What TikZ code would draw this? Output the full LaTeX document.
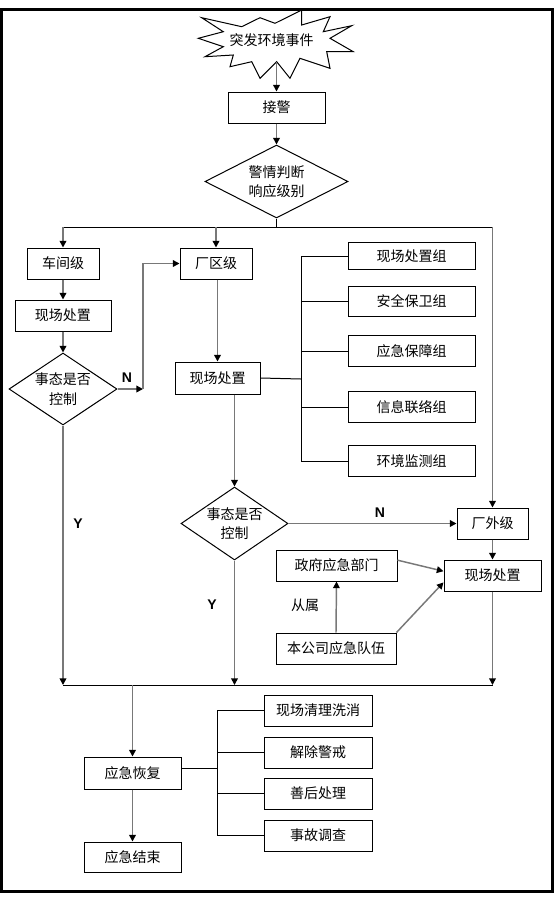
\documentclass[tikz,border=0pt]{standalone}
\usepackage{fontspec}
\newfontfamily\cjk{Noto Sans CJK SC}
\newfontfamily\lat{Liberation Sans}
\usetikzlibrary{shapes.geometric,arrows.meta,calc}
\definecolor{arrgray}{RGB}{120,120,120}
\begin{document}
\begin{tikzpicture}[x=0.75pt,y=-0.75pt,
  cjkfont/.style={font=\cjk\fontsize{10.5}{14.5}\selectfont},
  bx/.style 2 args={draw=black, line width=0.75pt, rectangle, minimum width=#1*0.75pt, minimum height=#2*0.75pt, inner sep=0pt, cjkfont},
  dm/.style 2 args={draw=black, line width=0.75pt, diamond, aspect=1.5, minimum width=#1*0.75pt, minimum height=#2*0.75pt, inner sep=0pt, align=center, cjkfont},
  ar/.style={draw=arrgray, line width=1.1pt, -{Triangle[length=5pt,width=5pt,color=black]}},
  ln/.style={draw=black, line width=0.75pt},
  lb/.style={font=\lat\bfseries\fontsize{10.5}{12}\selectfont},
  tx/.style={cjkfont}
]
\useasboundingbox (0,0) rectangle (556,901);
% frame
\draw[line width=2.25pt] (1.5,9) rectangle (552.5,891.5);

% star
\draw[ln, fill=white] (201.7,17.7) -- (241.7,26.7) -- (260,17.7) -- (275,23.3) -- (301.7,10) -- (301.7,25)
  -- (330,16.7) -- (323.3,31.7) -- (351.7,25.7) -- (330,38.3) -- (353.3,51.7) -- (326.7,51.7)
  -- (330,68.3) -- (300,58.3) -- (290,78.3) -- (276.7,61.7) -- (260,78.3) -- (251.7,61.7)
  -- (230,66.7) -- (233.3,55) -- (205,56.7) -- (223.3,46.7) -- (198.3,38.3) -- (223.3,31.7) -- cycle;
\node[tx] (ev) at (271.5,40) {突发环境事件};
\coordinate (evb) at (276.5,62);

% main nodes
\node[bx={97}{31}] (jj) at (276.5,107.5) {接警};
\node[dm={143}{73}, aspect=2] (d1) at (276.5,181.5) {警情判断\\响应级别};
\coordinate (bl) at (63,227);
\coordinate (br) at (492.5,227);

\node[bx={72}{31}] (cj) at (63,263.5) {车间级};
\node[bx={96}{31}] (xc1) at (63,315.5) {现场处置};
\node[dm={108}{72}] (dd1) at (63,389) {事态是否\\控制};
\coordinate (nA) at (143,389);

\node[bx={72}{31}] (cq) at (216,263.5) {厂区级};
\node[bx={85}{32}] (xc2) at (217.5,378) {现场处置};
\coordinate (brk) at (301,379);

\node[bx={127}{27}] (g1) at (411.5,256) {现场处置组};
\node[bx={127}{30}] (g2) at (411.5,301) {安全保卫组};
\node[bx={127}{31}] (g3) at (411.5,351) {应急保障组};
\node[bx={127}{31}] (g4) at (411.5,407) {信息联络组};
\node[bx={127}{31}] (g5) at (411.5,461) {环境监测组};

\node[dm={107}{73}] (dd2) at (234.5,523.5) {事态是否\\控制};
\node[bx={71}{31}] (cw) at (492.5,523.5) {厂外级};
\node[bx={97}{31}] (xc3) at (492.5,575.5) {现场处置};
\node[bx={121}{31}] (gov) at (336.5,565.5) {政府应急部门};
\node[bx={120}{31}] (bd) at (336,648.5) {本公司应急队伍};

\coordinate (hl) at (63,685);
\coordinate (hr) at (492.5,685);

\node[bx={97}{32}] (hf) at (132.5,773) {应急恢复};
\node[bx={97}{30}] (js) at (132.5,857) {应急结束};
\coordinate (brk2) at (217,768);
\node[bx={108}{31}] (r1) at (318,710.5) {现场清理洗消};
\node[bx={108}{31}] (r2) at (318,752.5) {解除警戒};
\node[bx={108}{31}] (r3) at (318,793.5) {善后处理};
\node[bx={108}{31}] (r4) at (318,835.5) {事故调查};

% labels
\node[lb] (n1) at (127,378) {N};
\node[lb] (n2) at (380,513) {N};
\node[lb] (y1) at (78,524) {Y};
\node[lb] (y2) at (212,605) {Y};
\node[tx] (cs) at (305,605) {从属};

% connectors
\draw[ar] (evb) -- (jj.north);
\draw[ar] (jj.south) -- (d1.north);
\draw[ln] (d1.south) -- (d1.south |- bl);
\draw[ln] (bl) -- (br);
\draw[ar] (bl) -- (cj.north);
\draw[ar] (cq.north |- bl) -- (cq.north);
\draw[ar] (br) -- (cw.north);
\draw[ar] (cj.south) -- (xc1.north);
\draw[ar] (xc1.south) -- (dd1.north);
\draw[ar] (dd1.east) -- (nA);
\draw[ar] (nA) |- (cq.west);
\draw[ar] (cq.south -| xc2.north) -- (xc2.north);
\draw[ln] (xc2.east) -- (brk);
\draw[ln] (brk |- g1.west) -- (brk |- g5.west);
\foreach \g in {g1,g2,g3,g4,g5} \draw[ln] (brk |- \g.west) -- (\g.west);
\draw[ar] (xc2.south -| dd2.north) -- (dd2.north);
\draw[ar] (dd2.east) -- (cw.west);
\draw[ar] (cw.south) -- (xc3.north);
\draw[ar] (gov.5) -- (xc3.175);
\draw[ar] (bd.north east) -- (xc3.188);
\draw[ar] (bd.north) -- (gov.south);
\draw[ar] (dd1.south) -- (hl);
\draw[ar] (dd2.south) -- (dd2.south |- hl);
\draw[ar] (xc3.south) -- (hr);
\draw[ln] (hl) -- (hr);
\draw[ar] (hf.north |- hl) -- (hf.north);
\draw[ar] (hf.south) -- (js.north);
\draw[ln] (hf.east |- brk2) -- (brk2);
\draw[ln] (brk2 |- r1.west) -- (brk2 |- r4.west);
\foreach \r in {r1,r2,r3,r4} \draw[ln] (brk2 |- \r.west) -- (\r.west);
\end{tikzpicture}
\end{document}
